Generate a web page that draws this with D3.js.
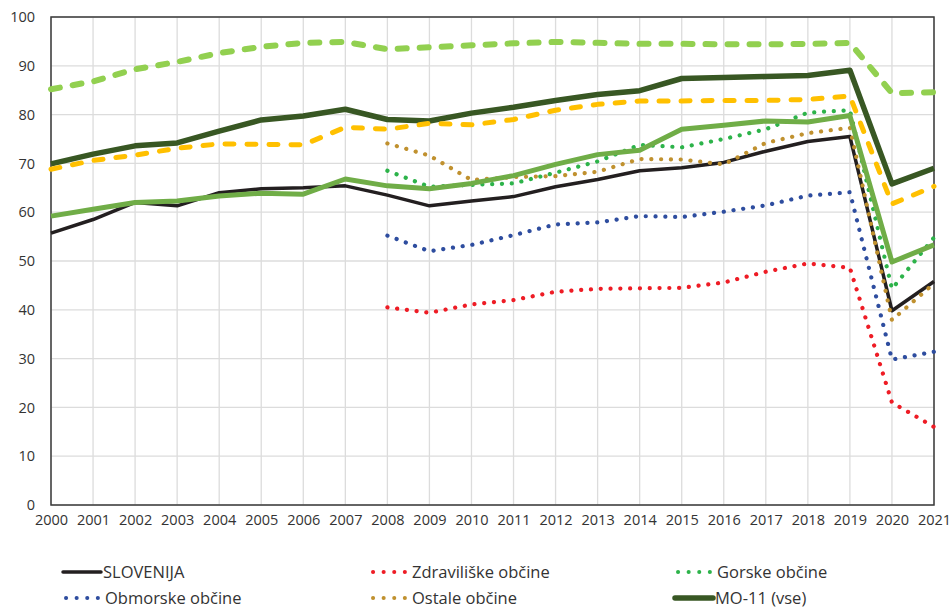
<!DOCTYPE html>
<html>
<head>
<meta charset="utf-8">
<script src="https://cdnjs.cloudflare.com/ajax/libs/d3/7.8.5/d3.min.js"></script>
<style>
    body { margin: 0; background: #fff; }
    svg text { font-family: "Open Sans", sans-serif; fill: #333; }
</style>
</head>
<body>
<svg id="Target" width="952" height="608"></svg>
<script>
// years on the x axis
var years = d3.range(2000, 2022);
var yTicks = [0, 10, 20, 30, 40, 50, 60, 70, 80, 90, 100];

// series values (null = no data)
var slovenija = [55.7, 58.5, 62.0, 61.3, 64.0, 64.8, 65.0, 65.4, 63.5, 61.3, 62.3, 63.2, 65.2, 66.7, 68.5, 69.1, 70.2, 72.5, 74.5, 75.5, 39.8, 45.8];
var zdraviliske = [null, null, null, null, null, null, null, null, 40.5, 39.4, 41.1, 42.0, 43.7, 44.3, 44.4, 44.5, 45.6, 47.8, 49.5, 48.6, 21.0, 16.0];
var gorske = [null, null, null, null, null, null, null, null, 68.5, 65.2, 65.6, 65.9, 68.1, 70.4, 73.8, 73.3, 75.0, 77.0, 80.4, 80.9, 44.3, 54.8];
var obmorske = [null, null, null, null, null, null, null, null, 55.2, 52.0, 53.3, 55.3, 57.5, 57.9, 59.2, 59.0, 60.1, 61.4, 63.4, 64.1, 29.8, 31.4];
var ostale = [null, null, null, null, null, null, null, null, 74.1, 71.6, 66.6, 67.2, 67.4, 68.3, 70.9, 70.8, 69.8, 74.2, 76.2, 77.3, 37.9, 45.4];
var mo11 = [69.9, 71.9, 73.6, 74.2, 76.6, 78.9, 79.7, 81.1, 79.0, 78.7, 80.3, 81.5, 82.9, 84.1, 84.9, 87.4, 87.6, 87.8, 88.0, 89.1, 65.8, 69.0];
var greenSolid = [59.2, 60.6, 62.0, 62.3, 63.3, 63.9, 63.7, 66.8, 65.4, 64.8, 65.9, 67.5, 69.8, 71.8, 72.7, 77.0, 77.8, 78.7, 78.5, 79.8, 49.8, 53.3];
var yellowDashed = [68.8, 70.6, 71.7, 73.1, 74.0, 73.9, 73.8, 77.4, 77.0, 78.2, 77.9, 79.0, 80.9, 82.1, 82.8, 82.8, 82.9, 82.9, 83.1, 83.8, 61.7, 65.3];
var greenDashed = [85.2, 86.8, 89.3, 90.8, 92.6, 93.9, 94.7, 94.9, 93.4, 93.8, 94.2, 94.6, 94.9, 94.7, 94.5, 94.5, 94.4, 94.4, 94.5, 94.7, 84.4, 84.6];

var series = [
    { name: "SLOVENIJA", values: slovenija, color: "#231f20", width: 3.5, dash: null, legend: true },
    { name: "Zdraviliške občine", values: zdraviliske, color: "#ee1c25", width: 4.2, dash: "0.1 9.7", legend: true },
    { name: "Gorske občine", values: gorske, color: "#2db34a", width: 4.2, dash: "0.1 9.7", legend: true },
    { name: "Obmorske občine", values: obmorske, color: "#2e4d9f", width: 4.2, dash: "0.1 9.7", legend: true },
    { name: "Ostale občine", values: ostale, color: "#c0912f", width: 4.2, dash: "0.1 9.7", legend: true },
    { name: "MO-11 (vse)", values: mo11, color: "#385723", width: 5.5, dash: null, legend: true },
    { name: "greenSolid", values: greenSolid, color: "#70ad47", width: 5, dash: null, legend: false },
    { name: "yellowDashed", values: yellowDashed, color: "#ffc000", width: 5, dash: "9 13", legend: false },
    { name: "greenDashed", values: greenDashed, color: "#92d050", width: 6, dash: "9 13", legend: false }
];

var svg = d3.select("#Target");
var plotLeft = 51, plotRight = 934, plotTop = 17, plotBottom = 505;

var x = d3.scaleLinear().domain([2000, 2021]).range([plotLeft, plotRight]);
var y = d3.scaleLinear().domain([0, 100]).range([plotBottom, plotTop]);

// grid
svg.append("g")
    .selectAll("line.vgrid")
    .data(years)
    .enter()
    .append("line")
    .attr("x1", function (d) { return x(d); })
    .attr("x2", function (d) { return x(d); })
    .attr("y1", plotTop)
    .attr("y2", plotBottom)
    .attr("stroke", "#dcdcdc")
    .attr("stroke-width", 1.3);
svg.append("g")
    .selectAll("line.hgrid")
    .data(yTicks)
    .enter()
    .append("line")
    .attr("x1", plotLeft)
    .attr("x2", plotRight)
    .attr("y1", function (d) { return y(d); })
    .attr("y2", function (d) { return y(d); })
    .attr("stroke", "#dcdcdc")
    .attr("stroke-width", 1.3);

// axes (labels only, frame drawn below)
var yAxis = svg.append("g")
    .attr("transform", "translate(" + plotLeft + ",0)")
    .call(d3.axisLeft(y).tickValues(yTicks).tickSize(0).tickPadding(16));
yAxis.select(".domain").remove();
yAxis.selectAll("text")
    .attr("font-size", 14.5)
    .style("font-family", "Open Sans")
    .attr("fill", "#333");

var xAxis = svg.append("g")
    .attr("transform", "translate(0," + plotBottom + ")")
    .call(d3.axisBottom(x).tickValues(years).tickFormat(d3.format("d")).tickSize(0).tickPadding(10));
xAxis.select(".domain").remove();
xAxis.selectAll("text")
    .attr("font-size", 14.5)
    .style("font-family", "Open Sans")
    .attr("fill", "#333");

// plot frame
svg.append("rect")
    .attr("x", plotLeft)
    .attr("y", plotTop)
    .attr("width", plotRight - plotLeft)
    .attr("height", plotBottom - plotTop)
    .attr("fill", "none")
    .attr("stroke", "#3a3a3a")
    .attr("stroke-width", 1.5);

// lines
var lineGenerator = d3.line()
    .defined(function (d) { return d !== null; })
    .x(function (d, i) { return x(years[i]); })
    .y(function (d) { return y(d); });

svg.append("g")
    .selectAll("path.series")
    .data(series)
    .enter()
    .append("path")
    .attr("d", function (d) { return lineGenerator(d.values); })
    .attr("fill", "none")
    .attr("stroke", function (d) { return d.color; })
    .attr("stroke-width", function (d) { return d.width; })
    .attr("stroke-dasharray", function (d) { return d.dash; })
    .attr("stroke-linecap", function (d) { return d.dash ? "round" : "butt"; })
    .attr("stroke-linejoin", "round");

// legend
var legendItems = series.filter(function (d) { return d.legend; });
var colX = [63, 370, 675];
var rowY = [572, 598];
var legend = svg.append("g")
    .selectAll("g.legend")
    .data(legendItems)
    .enter()
    .append("g")
    .attr("transform", function (d, i) {
        return "translate(" + colX[i % 3] + "," + rowY[Math.floor(i / 3)] + ")";
    });
legend.append("line")
    .attr("x1", function (d) { return d.dash ? 3 : 0; })
    .attr("x2", function (d) { return d.dash ? 36 : 38; })
    .attr("y1", 0)
    .attr("y2", 0)
    .attr("stroke", function (d) { return d.color; })
    .attr("stroke-width", function (d) { return d.dash ? 4 : d.width; })
    .attr("stroke-dasharray", function (d) { return d.dash ? "0.1 10.5" : null; })
    .attr("stroke-linecap", "round");
legend.append("text")
    .text(function (d) { return d.name; })
    .attr("x", function (d) { return d.dash ? 42 : 40; })
    .attr("y", 0)
    .attr("dy", "0.35em")
    .attr("font-size", 16.5);
</script>
</body>
</html>
